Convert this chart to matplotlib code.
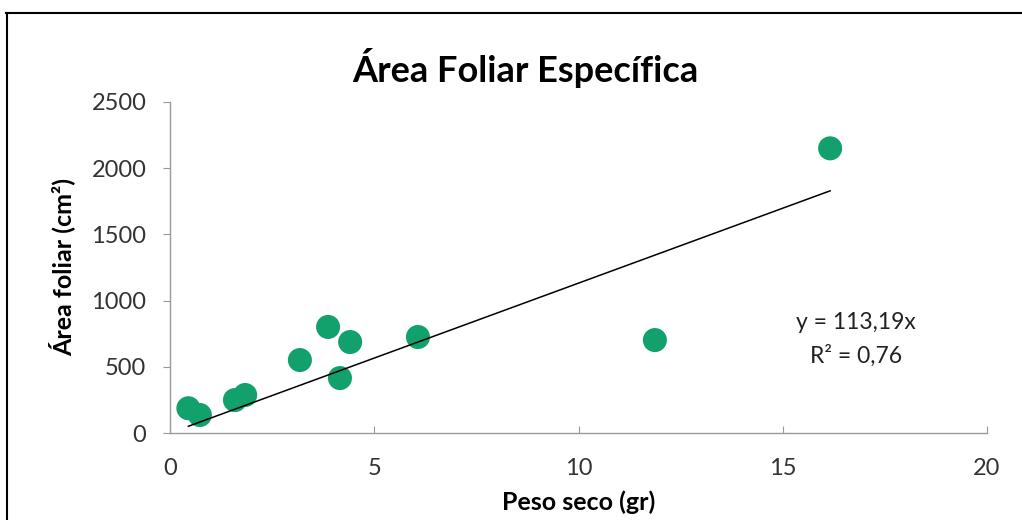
import numpy as np
import matplotlib.pyplot as plt
from matplotlib.lines import Line2D

# --- Data ---
peso_seco = [0.45, 0.73, 1.59, 1.84, 3.18, 3.87, 4.16, 4.41, 6.07, 11.87, 16.16]
area_foliar = [187, 136, 249, 287, 551, 801, 415, 687, 725, 702, 2150]
slope = 113.19
r2_text = "0,76"

x_ticks = [0, 5, 10, 15, 20]
y_ticks = [0, 500, 1000, 1500, 2000, 2500]

plt.rcParams['font.family'] = ['Lato', 'DejaVu Sans']

fig = plt.figure(figsize=(10.22, 5.2), dpi=100)
ax = fig.add_axes([170 / 1022, (520 - 433) / 520, (987 - 170) / 1022, (433 - 102) / 520])

# scatter points
ax.scatter(peso_seco, area_foliar, s=300, color='#12a06c', edgecolors='none', zorder=3)

# linear trendline through origin, over data range
xs = np.array([min(peso_seco), max(peso_seco)])
ax.plot(xs, slope * xs, color='black', linewidth=1.1, zorder=4)

ax.set_xlim(0, 20)
ax.set_ylim(0, 2500)
ax.set_xticks(x_ticks)
ax.set_yticks(y_ticks)
ax.tick_params(axis='both', labelsize=17, colors='#333333', length=5, width=0.8)
ax.tick_params(axis='x', direction='in', pad=18)
ax.tick_params(axis='y', pad=12, color='#999999')
ax.tick_params(axis='x', color='#999999')

for side in ['top', 'right']:
    ax.spines[side].set_visible(False)
for side in ['left', 'bottom']:
    ax.spines[side].set_color('#9a9a9a')
    ax.spines[side].set_linewidth(1.0)

ax.set_xlabel("Peso seco (gr)", fontsize=18, fontweight='bold', labelpad=8)
ax.set_ylabel("Área foliar (cm²)", fontsize=18, fontweight='bold', labelpad=12)

fig.text(525 / 1022, 1 - 68 / 520, "Área Foliar Específica", ha='center', va='center',
         fontsize=26, fontweight='bold')

ax.text(16.8, 838, f"y = {slope:.2f}x".replace('.', ','), ha='center', va='center', fontsize=16.5, color='#222222')
ax.text(16.8, 582, f"R² = {r2_text}", ha='center', va='center', fontsize=16.5, color='#222222')

# outer frame (top and left edges visible)
fig.add_artist(Line2D([6 / 1022, 1.0], [1 - 13 / 520, 1 - 13 / 520], color='black', linewidth=1.5))
fig.add_artist(Line2D([7 / 1022, 7 / 1022], [0, 1 - 13 / 520], color='black', linewidth=1.5))

fig.savefig('out.png', dpi=100)
